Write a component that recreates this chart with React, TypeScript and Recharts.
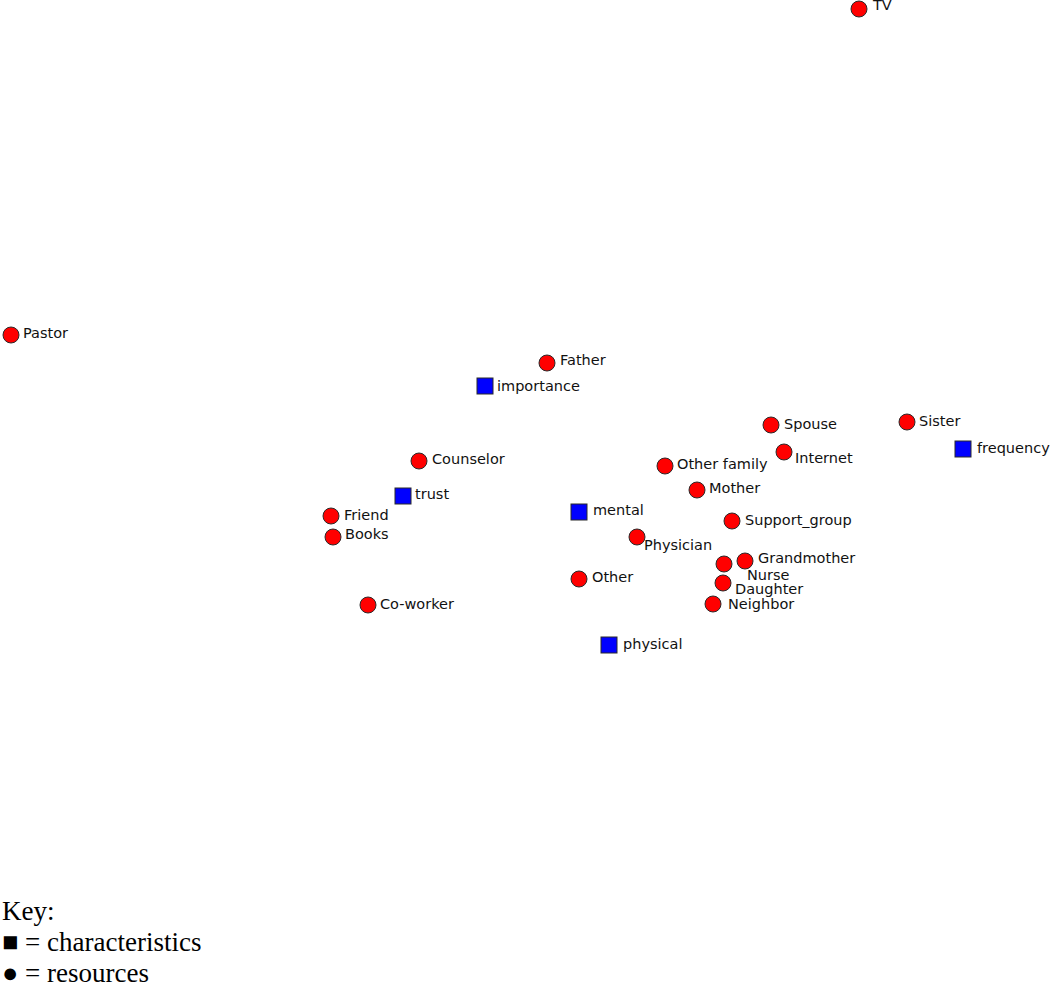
import { Scatter, ScatterChart, XAxis, YAxis } from "recharts"

// resources (red circles)
const resourceNames = [
  "TV", "Pastor", "Father", "Counselor", "Friend", "Books", "Co-worker", "Other",
  "Physician", "Spouse", "Sister", "Internet", "Other family", "Mother",
  "Support_group", "Grandmother", "Nurse", "Daughter", "Neighbor",
]
const resourceX = [859, 11, 547, 419, 331, 333, 368, 579, 637, 771, 907, 784, 665, 697, 732, 745, 724, 723, 713]
const resourceY = [9, 335, 363, 461, 516, 537, 605, 579, 537, 425, 422, 452, 466, 490, 521, 561, 564, 583, 604]

// characteristics (blue squares)
const charNames = ["importance", "trust", "mental", "frequency", "physical"]
const charX = [485, 403, 579, 963, 609]
const charY = [386, 496, 512, 449, 645]

// label placement relative to the marker
const labelOffsets: Record<string, [number, number]> = {
  TV: [14, -4],
  Pastor: [12, -2],
  Father: [13, -3],
  Counselor: [13, -2],
  Friend: [13, -1],
  Books: [12, -3],
  "Co-worker": [12, -1],
  Other: [13, -2],
  Physician: [7, 8],
  Spouse: [13, -1],
  Sister: [12, -1],
  Internet: [11, 6],
  "Other family": [12, -2],
  Mother: [12, -2],
  Support_group: [13, -1],
  Grandmother: [13, -3],
  Nurse: [23, 11],
  Daughter: [12, 6],
  Neighbor: [15, 0],
  importance: [12, 0],
  trust: [12, -2],
  mental: [14, -2],
  frequency: [14, -1],
  physical: [14, -1],
}

const resources = resourceNames.map((name, i) => ({ name, x: resourceX[i], y: resourceY[i] }))
const characteristics = charNames.map((name, i) => ({ name, x: charX[i], y: charY[i] }))

const labelStyle = { fontFamily: "DejaVu Sans", fontSize: 14.5, fill: "#111" }

function Label({ cx, cy, name }: { cx: number; cy: number; name: string }) {
  const [dx, dy] = labelOffsets[name] ?? [12, 0]
  return (
    <text x={cx + dx} y={cy + dy} dominantBaseline="central" {...labelStyle}>
      {name}
    </text>
  )
}

function CircleShape(props: any) {
  const { cx, cy, payload } = props
  return (
    <g>
      <circle cx={cx} cy={cy} r={8} fill="#ff0000" stroke="#2a2a2a" strokeWidth={1} />
      <Label cx={cx} cy={cy} name={payload.name} />
    </g>
  )
}

function SquareShape(props: any) {
  const { cx, cy, payload } = props
  return (
    <g>
      <rect x={cx - 8} y={cy - 8} width={16} height={16} fill="#0000ff" stroke="#2a2a2a" strokeWidth={1} />
      <Label cx={cx} cy={cy} name={payload.name} />
    </g>
  )
}

export default function App() {
  return (
    <div style={{ width: 1050, background: "#fff" }}>
      <style>{"body{margin:0;background:#fff}"}</style>
      <ScatterChart width={1050} height={896} margin={{ top: 0, right: 0, bottom: 0, left: 0 }}>
        <XAxis type="number" dataKey="x" domain={[0, 1050]} hide />
        <YAxis type="number" dataKey="y" domain={[0, 896]} reversed hide />
        <Scatter data={resources} shape={CircleShape} isAnimationActive={false} />
        <Scatter data={characteristics} shape={SquareShape} isAnimationActive={false} />
      </ScatterChart>
      <div style={{ fontFamily: "'Liberation Serif', 'Times New Roman', serif", fontSize: 27, lineHeight: "31px", color: "#000", paddingLeft: 2 }}>
        <div>Key:</div>
        <div>■ = characteristics</div>
        <div>● = resources</div>
      </div>
    </div>
  )
}
